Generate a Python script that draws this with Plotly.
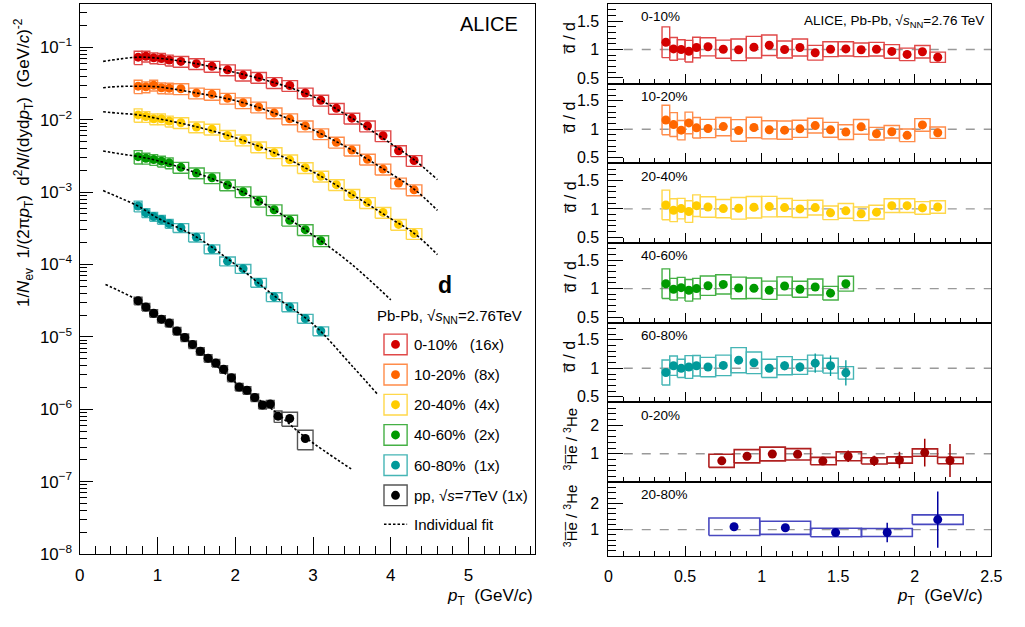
import plotly.graph_objects as go

W, H = 1025, 627
FONT = "Liberation Sans"


def px(x):
    return x / W


def py(y):
    return 1 - y / H


# ---------------- data: deuteron spectra (left) ----------------
d_pt = [0.75, 0.85, 0.95, 1.05, 1.15, 1.3, 1.5, 1.7, 1.9, 2.1, 2.3, 2.5, 2.7, 2.9, 3.1,
        3.3, 3.5, 3.7, 3.9, 4.1, 4.3]
d_hw = [0.05] * 5 + [0.1] * 16

spec_0_10 = [0.0732, 0.0755, 0.0717, 0.0702, 0.0667, 0.0640, 0.0595, 0.0547, 0.0489, 0.0414,
             0.0385, 0.0326, 0.0297, 0.0234, 0.0186, 0.01436, 0.01052, 0.0082, 0.0060,
             0.00373, 0.00273]
spec_10_20 = [0.0291, 0.0285, 0.0300, 0.0276, 0.0273, 0.0268, 0.0234, 0.02244, 0.0198, 0.01714,
              0.01497, 0.01242, 0.0103, 0.0082, 0.0064, 0.00489, 0.00381, 0.00285, 0.00208,
              0.001336, 0.001075]
spec_20_40 = [0.01167, 0.01108, 0.0103, 0.0103, 0.00958, 0.0091, 0.00795, 0.0074, 0.00607,
              0.00525, 0.00422, 0.0035, 0.00279, 0.002175, 0.00166, 0.001268, 0.000929,
              0.000717, 0.000525, 0.000358, 0.000268]
spec_40_60 = [0.00309, 0.00294, 0.00282, 0.002676, 0.00254, 0.0022, 0.00184, 0.001577, 0.001256,
              0.00101, 0.000747, 0.00057, 0.000409, 0.000303, 0.000213]
spec_60_80 = [6.42e-4, 5.16e-4, 4.60e-4, 4.19e-4, 3.69e-4, 3.22e-4, 2.38e-4, 1.638e-4, 1.113e-4,
              8.76e-5, 5.65e-5, 3.57e-5, 2.59e-5, 1.795e-5, 1.208e-5]
spec_sys_pbpb = [0.21] + [0.17] * 20
spec_sys_6080 = [0.17] + [0.14] * 14

pp_pt = [0.75, 0.85, 0.95, 1.05, 1.15, 1.25, 1.35, 1.45, 1.55, 1.65, 1.75, 1.85, 1.95, 2.05,
         2.15, 2.25, 2.35, 2.45, 2.55, 2.7, 2.9]
pp_hw = [0.05] * 19 + [0.1, 0.1]
spec_pp = [3.15e-5, 2.59e-5, 2.12e-5, 1.758e-5, 1.552e-5, 1.208e-5, 9.80e-6, 7.87e-6, 6.33e-6,
           5.08e-6, 4.35e-6, 3.56e-6, 2.72e-6, 2.03e-6, 1.83e-6, 1.454e-6, 1.144e-6, 1.18e-6,
           8.03e-7, 7.46e-7, 3.95e-7]
spec_sys_pp = [0.12] * 18 + [0.18, 0.22, 0.30]

# individual fits
fit_pt = [0.3, 0.5, 0.75, 1.0, 1.5, 2.0, 2.5, 3.0, 3.5, 4.0, 4.3, 4.6]
fit_0_10 = [0.064, 0.0687, 0.0732, 0.071, 0.0595, 0.045, 0.0326, 0.0209, 0.0105, 0.0047, 0.0028,
            0.00149]
fit_10_20 = [0.0277, 0.0288, 0.029, 0.0285, 0.0234, 0.0184, 0.0124, 0.00725, 0.00381, 0.0018,
             0.0011, 0.00056]
fit_20_40 = [0.0129, 0.0123, 0.0117, 0.0104, 0.0080, 0.00565, 0.0035, 0.0019, 0.00093, 0.00043,
             0.00027, 0.000137]
fit_pt_40_60 = [0.3, 0.5, 0.75, 1.0, 1.5, 2.0, 2.5, 3.0, 3.5, 4.0]
fit_40_60 = [0.0037, 0.0034, 0.0031, 0.00272, 0.00184, 0.00113, 0.00057, 0.000254, 0.0001,
             3.25e-5]
fit_pt_60_80 = [0.3, 0.5, 0.75, 1.0, 1.5, 2.0, 2.5, 3.0, 3.5, 3.83]
fit_60_80 = [1.05e-3, 8.5e-4, 6.4e-4, 4.4e-4, 2.4e-4, 1.0e-4, 3.7e-5, 1.5e-5, 4.0e-6, 1.61e-6]
fit_pt_pp = [0.33, 0.5, 0.75, 1.0, 1.5, 2.0, 2.5, 2.9, 3.49]
fit_pp = [5.3e-5, 4.36e-5, 3.15e-5, 1.93e-5, 7.1e-6, 2.35e-6, 9.5e-7, 4.1e-7, 1.5e-7]

# ---------------- data: ratios (right) ----------------
r_0_10 = [1.127, 1.01, 1.0, 0.97, 1.035, 1.047, 1.005, 0.995, 1.04, 1.075, 1.0, 1.035, 0.943,
          1.005, 1.01, 0.995, 1.005, 0.966, 0.914, 0.96, 0.863]
rs_0_10 = [0.27, 0.2, 0.17, 0.19, 0.18, 0.16, 0.16, 0.19, 0.19, 0.18, 0.15, 0.15, 0.13, 0.13,
           0.125, 0.12, 0.12, 0.12, 0.11, 0.11, 0.09]
r_10_20 = [1.161, 1.081, 0.983, 1.11, 1.024, 1.012, 1.046, 0.978, 1.029, 0.989, 0.983, 1.006,
           1.063, 0.989, 0.949, 1.041, 0.921, 0.955, 0.892, 1.075, 0.938]
rs_10_20 = [0.26, 0.21, 0.17, 0.19, 0.18, 0.16, 0.16, 0.19, 0.18, 0.16, 0.16, 0.15, 0.13, 0.13,
            0.13, 0.13, 0.11, 0.11, 0.11, 0.11, 0.10]
r_20_40 = [1.069, 0.977, 1.005, 0.954, 1.057, 1.034, 1.005, 1.011, 1.029, 1.04, 1.023, 1.0, 1.023,
           0.931, 0.966, 0.914, 0.943, 1.057, 1.057, 1.017, 1.034]
rs_20_40 = [0.26, 0.2, 0.18, 0.19, 0.19, 0.18, 0.16, 0.19, 0.19, 0.18, 0.16, 0.15, 0.13, 0.12,
            0.13, 0.12, 0.12, 0.12, 0.12, 0.11, 0.11]
r_40_60 = [1.086, 0.989, 1.017, 0.971, 1.0, 1.051, 1.074, 1.011, 1.006, 0.971, 1.046, 0.989, 1.029,
           0.92, 1.086]
rs_40_60 = [0.26, 0.19, 0.18, 0.19, 0.18, 0.17, 0.17, 0.19, 0.18, 0.16, 0.16, 0.14, 0.14, 0.12,
            0.13]
r_60_80 = [0.926, 1.046, 1.0, 1.023, 1.046, 1.023, 1.051, 1.143, 1.097, 1.0, 1.046, 1.023, 1.091,
           1.046, 0.92]
rs_60_80 = [0.22, 0.17, 0.16, 0.2, 0.18, 0.17, 0.18, 0.22, 0.19, 0.16, 0.16, 0.13, 0.14, 0.13,
            0.11]
re_60_80 = [0.04, 0.04, 0.04, 0.04, 0.04, 0.04, 0.05, 0.05, 0.05, 0.06, 0.08, 0.08, 0.17, 0.18,
            0.22]

he_x_0_20 = [0.74, 0.905, 1.07, 1.235, 1.40, 1.565, 1.735, 1.90, 2.065, 2.23]
he_edges_0_20 = [0.656, 0.821, 0.988, 1.155, 1.32, 1.487, 1.652, 1.819, 1.984, 2.149, 2.316]
he_r_0_20 = [0.75, 0.91, 0.99, 0.98, 0.74, 0.91, 0.75, 0.78, 1.04, 0.76]
he_sys_0_20 = [0.23, 0.233, 0.24, 0.2, 0.13, 0.155, 0.11, 0.11, 0.13, 0.11]
he_stat_0_20 = [0.05, 0.05, 0.05, 0.06, 0.06, 0.2, 0.18, 0.29, 0.49, 0.58]

he_x_20_80 = [0.82, 1.155, 1.483, 1.82, 2.15]
he_edges_20_80 = [0.656, 0.988, 1.32, 1.652, 1.984, 2.316]
he_r_20_80 = [1.11, 1.07, 0.89, 0.89, 1.38]
he_sys_20_80 = [0.33, 0.25, 0.16, 0.15, 0.18]
he_stat_20_80 = [0.07, 0.07, 0.08, 0.37, 1.07]

legend_labels = ["0-10%\u00a0\u00a0\u00a0(16x)", "10-20%\u00a0\u00a0(8x)", "20-40%\u00a0\u00a0(4x)",
                 "40-60%\u00a0\u00a0(2x)", "60-80%\u00a0\u00a0(1x)",
                 "pp, \u221a<i>s</i>=7TeV (1x)"]

# ---------------- colours ----------------
C_RED, B_RED = "#d40000", "#e04848"
C_ORA, B_ORA = "#ff6600", "#ff8c4a"
C_YEL, B_YEL = "#ffcc00", "#ffd84a"
C_GRN, B_GRN = "#009a00", "#45b045"
C_TEA, B_TEA = "#009999", "#45b5b5"
C_BLK, B_BLK = "#000000", "#555555"
C_HER, B_HER = "#a00000", "#b02020"
C_BLU, B_BLU = "#0000a0", "#4848c0"
FIT_DASH = "2.5px,2px"

fig = go.Figure()


def boxes_rel(xc, hw, y, f):
    xs, ys = [], []
    for a, w, v, r in zip(xc, hw, y, f):
        lo, hi = v * (1 - r), v * (1 + r)
        xs += [a - w, a + w, a + w, a - w, a - w, None]
        ys += [lo, lo, hi, hi, lo, None]
    return xs, ys


def boxes_abs(xc, hw, y, s):
    xs, ys = [], []
    for a, w, v, r in zip(xc, hw, y, s):
        xs += [a - w, a + w, a + w, a - w, a - w, None]
        ys += [v - r, v - r, v + r, v + r, v - r, None]
    return xs, ys


def boxes_edges(edges, y, s):
    xs, ys = [], []
    for i, (v, r) in enumerate(zip(y, s)):
        a, b = edges[i], edges[i + 1]
        xs += [a, b, b, a, a, None]
        ys += [v - r, v - r, v + r, v + r, v - r, None]
    return xs, ys


# ---------- left panel ----------
left_sets = [
    (d_pt, d_hw, spec_0_10, spec_sys_pbpb, C_RED, B_RED, fit_pt, fit_0_10),
    (d_pt, d_hw, spec_10_20, spec_sys_pbpb, C_ORA, B_ORA, fit_pt, fit_10_20),
    (d_pt, d_hw, spec_20_40, spec_sys_pbpb, C_YEL, B_YEL, fit_pt, fit_20_40),
    (d_pt[:15], d_hw[:15], spec_40_60, spec_sys_pbpb[:15], C_GRN, B_GRN, fit_pt_40_60, fit_40_60),
    (d_pt[:15], d_hw[:15], spec_60_80, spec_sys_6080, C_TEA, B_TEA, fit_pt_60_80, fit_60_80),
    (pp_pt, pp_hw, spec_pp, spec_sys_pp, C_BLK, B_BLK, fit_pt_pp, fit_pp),
]
for xc, hw, y, f, c, bc, fx, fy in left_sets:
    bx, by = boxes_rel(xc, hw, y, f)
    fig.add_trace(go.Scatter(x=bx, y=by, mode="lines", line=dict(color=bc, width=1.4),
                             xaxis="x", yaxis="y", hoverinfo="skip"))
    fig.add_trace(go.Scatter(x=xc, y=y, mode="markers", marker=dict(color=c, size=9),
                             xaxis="x", yaxis="y"))
for xc, hw, y, f, c, bc, fx, fy in left_sets:
    fig.add_trace(go.Scatter(x=fx, y=fy, mode="lines",
                             line=dict(color="black", width=1.6, dash=FIT_DASH, shape="spline"),
                             xaxis="x", yaxis="y", hoverinfo="skip"))

# ---------- right panels ----------
d_x = [p / 2 for p in d_pt]
d_xhw = [w / 2 for w in d_hw]
ratio_sets = [
    (d_x, d_xhw, r_0_10, rs_0_10, [0.03] * 21, C_RED, B_RED),
    (d_x, d_xhw, r_10_20, rs_10_20, [0.03] * 21, C_ORA, B_ORA),
    (d_x, d_xhw, r_20_40, rs_20_40, [0.03] * 21, C_YEL, B_YEL),
    (d_x[:15], d_xhw[:15], r_40_60, rs_40_60, [0.04] * 15, C_GRN, B_GRN),
    (d_x[:15], d_xhw[:15], r_60_80, rs_60_80, re_60_80, C_TEA, B_TEA),
]
for k, (xc, hw, y, s, e, c, bc) in enumerate(ratio_sets):
    ax = str(k + 2)
    fig.add_trace(go.Scatter(x=[0.1, 2.5], y=[1, 1], mode="lines",
                             line=dict(color="#999999", width=1.4, dash="dash"),
                             xaxis="x" + ax, yaxis="y" + ax, hoverinfo="skip"))
    bx, by = boxes_abs(xc, hw, y, s)
    fig.add_trace(go.Scatter(x=bx, y=by, mode="lines", line=dict(color=bc, width=1.4),
                             xaxis="x" + ax, yaxis="y" + ax, hoverinfo="skip"))
    fig.add_trace(go.Scatter(x=xc, y=y, mode="markers", marker=dict(color=c, size=9),
                             error_y=dict(type="data", array=e, color=c, thickness=1.3, width=0),
                             xaxis="x" + ax, yaxis="y" + ax))

he_sets = [
    (he_x_0_20, he_edges_0_20, he_r_0_20, he_sys_0_20, he_stat_0_20, C_HER, B_HER, "7"),
    (he_x_20_80, he_edges_20_80, he_r_20_80, he_sys_20_80, he_stat_20_80, C_BLU, B_BLU, "8"),
]
for xc, ed, y, s, e, c, bc, ax in he_sets:
    fig.add_trace(go.Scatter(x=[0.1, 2.5], y=[1, 1], mode="lines",
                             line=dict(color="#999999", width=1.4, dash="dash"),
                             xaxis="x" + ax, yaxis="y" + ax, hoverinfo="skip"))
    bx, by = boxes_edges(ed, y, s)
    fig.add_trace(go.Scatter(x=bx, y=by, mode="lines", line=dict(color=bc, width=1.6),
                             xaxis="x" + ax, yaxis="y" + ax, hoverinfo="skip"))
    fig.add_trace(go.Scatter(x=xc, y=y, mode="markers", marker=dict(color=c, size=9),
                             error_y=dict(type="data", array=e, color=c, thickness=1.5, width=0),
                             xaxis="x" + ax, yaxis="y" + ax))

# ---------- axes ----------
tickfont = dict(family=FONT, size=16, color="black")
layout = dict(
    width=W, height=H, margin=dict(l=0, r=0, t=0, b=0, pad=0), autosize=False,
    paper_bgcolor="white", plot_bgcolor="white", showlegend=False,
    font=dict(family=FONT, color="black"),
)
layout["xaxis"] = dict(domain=[px(76), px(538)], range=[0, 5.85], anchor="y",
                       showline=True, mirror=True, linecolor="black", linewidth=1,
                       ticks="inside", ticklen=17, tickcolor="black", dtick=1, tick0=0,
                       minor=dict(ticks="inside", ticklen=8, dtick=0.2, tickcolor="black"),
                       showgrid=False, zeroline=False, tickfont=dict(family=FONT, size=17),
                       ticklabelstandoff=6)
layout["yaxis"] = dict(domain=[py(563), py(4)], type="log", range=[-8, -0.4], anchor="x",
                       showline=True, mirror=True, linecolor="black", linewidth=1,
                       ticks="inside", ticklen=13, tickcolor="black", dtick=1,
                       exponentformat="power",
                       minor=dict(ticks="inside", ticklen=7, dtick="D1", tickcolor="black",
                                  showgrid=False),
                       showgrid=False, zeroline=False, tickfont=dict(family=FONT, size=13.5),
                       ticklabelstandoff=4)

edges_px = [4, 85, 166, 247, 328, 409, 490, 565]
for k in range(7):
    n = str(k + 2)
    bottom = (k == 6)
    layout["xaxis" + n] = dict(domain=[px(613), px(1002)], range=[0, 2.5], anchor="y" + n,
                               showline=True, mirror=True, linecolor="black", linewidth=1,
                               ticks="inside", ticklen=10, tickcolor="black", dtick=0.5, tick0=0,
                               minor=dict(ticks="inside", ticklen=5, dtick=0.1, tickcolor="black"),
                               showticklabels=bottom, showgrid=False, zeroline=False,
                               tickfont=dict(family=FONT, size=16), ticklabelstandoff=6)
    ydom = [py(edges_px[k + 1]), py(edges_px[k])]
    if k < 5:
        layout["yaxis" + n] = dict(domain=ydom, range=[0.4, 1.8], anchor="x" + n,
                                   showline=True, mirror=True, linecolor="black", linewidth=1,
                                   ticks="inside", ticklen=15, tickcolor="black",
                                   tick0=0.5, dtick=0.5,
                                   minor=dict(ticks="inside", ticklen=8, dtick=0.1, tick0=0.4,
                                              tickcolor="black"),
                                   showgrid=False, zeroline=False, tickfont=tickfont,
                                   ticklabelstandoff=5)
    else:
        layout["yaxis" + n] = dict(domain=ydom, range=[0, 2.8], anchor="x" + n,
                                   showline=True, mirror=True, linecolor="black", linewidth=1,
                                   ticks="inside", ticklen=15, tickcolor="black",
                                   tickmode="array", tickvals=[1, 2], ticktext=["1", "2"],
                                   minor=dict(ticks="inside", ticklen=8, tickmode="linear",
                                              tick0=0, dtick=0.2, tickcolor="black"),
                                   showgrid=False, zeroline=False, tickfont=tickfont,
                                   ticklabelstandoff=5)
fig.update_layout(**layout)

# ---------- annotations ----------
ann = []


def A(x, y, text, size=15, xanchor="left", angle=0, **kw):
    ann.append(dict(x=px(x), y=py(y), xref="paper", yref="paper", text=text, showarrow=False,
                    xanchor=xanchor, yanchor="middle", textangle=angle,
                    font=dict(family=FONT, size=size, color="black"), **kw))


A(19, 165, "1/<i>N</i><sub>ev</sub>\u00a0\u00a01/(2\u03c0<i>p</i><sub>T</sub>)\u00a0\u00a0"
          "d<sup>2</sup><i>N</i>/(dyd<i>p</i><sub>T</sub>)\u00a0\u00a0(GeV/<i>c</i>)<sup>-2</sup>",
  size=17, xanchor="center", angle=-90)
A(538, 607, "<i>p</i><sub>T</sub>\u00a0\u00a0(GeV/<i>c</i>)", size=17, xanchor="right")
A(996, 607, "<i>p</i><sub>T</sub>\u00a0\u00a0(GeV/<i>c</i>)", size=17, xanchor="right")
A(523, 24, "ALICE", size=20, xanchor="right")
A(447, 290, "<b>d</b>", size=23, xanchor="center")
A(376, 322, "Pb-Pb, \u221a<i>s</i><sub>NN</sub>=2.76TeV", size=15)
A(997, 22, "ALICE, Pb-Pb, \u221a<i>s</i><sub>NN</sub>=2.76 TeV", size=13.5, xanchor="right")

panel_labels = ["0-10%", "10-20%", "20-40%", "40-60%", "60-80%", "0-20%", "20-80%"]
for k, lab in enumerate(panel_labels):
    A(644, edges_px[k] + 13, lab, size=13.5)
    cy = (edges_px[k] + edges_px[k + 1]) / 2
    if k < 5:
        A(574, cy - 6, "d\u0305 / d", size=16, xanchor="center", angle=-90)
    else:
        A(574, cy - 3, "<sup>3</sup>H\u0305e\u0305 / <sup>3</sup>He", size=15,
          xanchor="center", angle=-90)

# legend (manual)
leg_y = [350, 380.7, 411.3, 442, 472.7, 503.3]
leg_c = [(C_RED, B_RED), (C_ORA, B_ORA), (C_YEL, B_YEL), (C_GRN, B_GRN), (C_TEA, B_TEA),
         (C_BLK, B_BLK)]
shapes = []
for yc, (c, bc), lab in zip(leg_y, leg_c, legend_labels):
    shapes.append(dict(type="rect", xref="paper", yref="paper", x0=px(385), x1=px(408.5),
                       y0=py(yc + 10.5), y1=py(yc - 10.5), line=dict(color=bc, width=1.4)))
    shapes.append(dict(type="circle", xref="paper", yref="paper", x0=px(392.2), x1=px(401.2),
                       y0=py(yc + 4.5), y1=py(yc - 4.5), fillcolor=c, line=dict(color=c, width=0)))
    A(413.5, yc, lab, size=15)
shapes.append(dict(type="line", xref="paper", yref="paper", x0=px(385), x1=px(408.5),
                   y0=py(532.7), y1=py(532.7), line=dict(color="black", width=1.6, dash=FIT_DASH)))
A(413.5, 532.7, "Individual fit", size=15)

fig.update_layout(annotations=ann, shapes=shapes)
fig.write_html("out.html", config={"displayModeBar": False, "responsive": False},
               post_script="document.body.style.margin='0';document.body.style.overflow='hidden';")
